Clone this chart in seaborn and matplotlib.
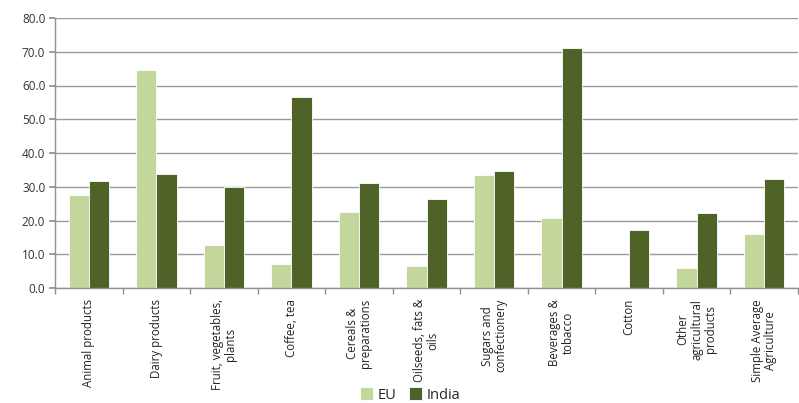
import matplotlib
matplotlib.use("Agg")
import matplotlib.pyplot as plt
import seaborn as sns
import pandas as pd
import numpy as np

categories = ["Animal products", "Dairy products", "Fruit, vegetables,\nplants", "Coffee, tea",
              "Cereals &\npreparations", "Oilseeds, fats &\noils", "Sugars and\nconfectionery",
              "Beverages &\ntobacco", "Cotton", "Other\nagricultural\nproducts",
              "Simple Average\nAgriculture"]
eu = [27.6, 64.5, 12.7, 7.2, 22.6, 6.6, 33.5, 20.7, 0.0, 5.9, 16.0]
india = [31.6, 33.9, 29.9, 56.5, 31.0, 26.3, 34.6, 71.0, 17.2, 22.2, 32.4]
series = ["EU", "India"]
colors = ["#C3D69B", "#4F6228"]

df = pd.DataFrame({
    "category": categories * 2,
    "value": eu + india,
    "series": [series[0]] * len(categories) + [series[1]] * len(categories),
})

sns.set_theme(style="white")
plt.rcParams['font.family'] = ['Open Sans', 'DejaVu Sans']

fig = plt.figure(figsize=(7.99, 4.03), dpi=100)
ax = fig.add_axes([55/799, 1 - 288/403, 743/799, 270/403])

sns.barplot(data=df, x="category", y="value", hue="series", palette=colors, saturation=1,
            width=0.6, edgecolor="white", linewidth=0.6, ax=ax, legend=True,
            order=categories, hue_order=series)

ax.set_ylim(0, 80)
ax.set_xlim(-0.5, len(categories) - 0.5)
ax.set_yticks(np.arange(0, 81, 10))
ax.set_yticklabels([f"{v:.1f}" for v in np.arange(0, 81, 10)], fontsize=8.5, color="#333333")
ax.yaxis.grid(True, color="#9A9A9A", linewidth=1)
ax.set_axisbelow(True)
ax.set_xlabel("")
ax.set_ylabel("")

for s in ["top", "right"]:
    ax.spines[s].set_visible(False)
for s in ["left", "bottom"]:
    ax.spines[s].set_color("#909090")
    ax.spines[s].set_linewidth(1)

ax.tick_params(axis="y", which="major", length=4, direction="out", color="#909090", left=True, pad=3)
ax.set_xticks(range(len(categories)))
ax.set_xticklabels(categories, rotation=90, fontsize=8.3, color="#222222", ha="center", va="top",
                   multialignment="center", linespacing=1.05)
ax.tick_params(axis="x", which="major", length=0, pad=8)
ax.set_xticks(np.arange(-0.5, len(categories), 1), minor=True)
ax.tick_params(axis="x", which="minor", length=4, direction="out", color="#909090", bottom=True)

handles, labels = ax.get_legend_handles_labels()
leg = ax.legend(handles, labels, loc="center", bbox_to_anchor=(410/799, 1 - 395/403),
                bbox_transform=fig.transFigure, ncol=2, frameon=False, fontsize=10.5,
                handlelength=0.9, handleheight=0.9, handletextpad=0.3, columnspacing=0.9)

fig.savefig("out.png", dpi=100)
